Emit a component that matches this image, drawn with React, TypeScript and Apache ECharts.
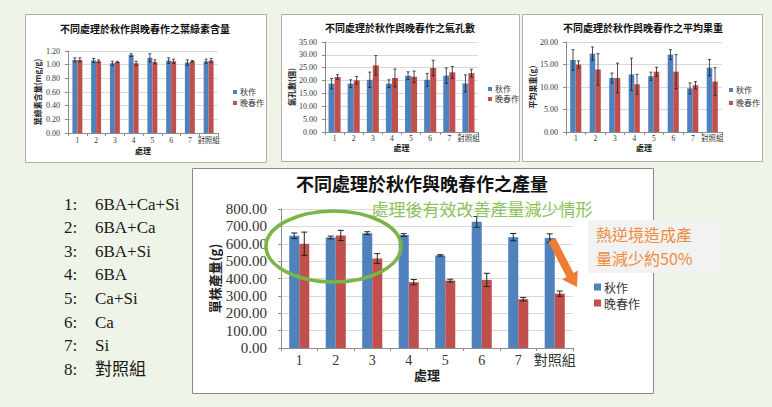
import { useEffect, useRef } from 'react';
import * as echarts from 'echarts';

const categories = ['1', '2', '3', '4', '5', '6', '7', '對照組'];
const seriesNames = ['秋作', '晚春作'];

// 葉綠素含量 (mg/g)
const chlAutumn = [1.07, 1.06, 1.02, 1.14, 1.1, 1.06, 1.03, 1.05];
const chlAutumnErr = [0.03, 0.03, 0.03, 0.02, 0.06, 0.04, 0.04, 0.03];
const chlSpring = [1.07, 1.05, 1.04, 1.02, 1.04, 1.05, 1.05, 1.06];
const chlSpringErr = [0.03, 0.02, 0.01, 0.03, 0.03, 0.03, 0.01, 0.03];

// 氣孔數 (個)
const stoAutumn = [18.8, 18.8, 20.3, 18.8, 21.9, 20.3, 21.9, 18.9];
const stoAutumnErr = [2.0, 1.5, 3.0, 1.5, 1.5, 2.5, 3.0, 3.3];
const stoSpring = [21.4, 20.1, 25.9, 21.0, 21.5, 24.9, 23.2, 22.9];
const stoSpringErr = [0.9, 1.5, 3.8, 3.5, 2.2, 3.0, 2.3, 1.5];

// 平均果重 (g)
const fwAutumn = [16.0, 17.4, 12.0, 12.8, 12.4, 17.2, 9.7, 14.3];
const fwAutumnErr = [2.3, 1.5, 1.1, 3.6, 0.9, 1.1, 1.2, 1.8];
const fwSpring = [15.0, 13.9, 12.0, 10.6, 13.4, 13.4, 10.4, 11.2];
const fwSpringErr = [0.8, 3.5, 3.3, 2.2, 1.0, 3.8, 0.8, 3.1];

// 單株產量 (g)
const yieldAutumn = [646, 636, 661, 650, 533, 726, 638, 633];
const yieldAutumnErr = [16, 8, 8, 8, 4, 31, 21, 24];
const yieldSpring = [600, 648, 515, 379, 388, 392, 281, 313];
const yieldSpringErr = [67, 29, 28, 15, 8, 38, 10, 15];

const treatmentNos = ['1:', '2:', '3:', '4:', '5:', '6:', '7:', '8:'];
const treatmentNames = ['6BA+Ca+Si', '6BA+Ca', '6BA+Si', '6BA', 'Ca+Si', 'Ca', 'Si', '對照組'];

const BLUE = '#4f81bd';
const RED = '#c0504d';
const SERIF = '"Liberation Serif", "Noto Sans CJK TC", serif';
const SANS_TC = '"Noto Sans CJK TC", sans-serif';

const charts = [
  {
    title: '不同處理於秋作與晚春作之葉綠素含量',
    yName: '葉綠素含量(mg/g)',
    max: 1.2, interval: 0.2,
    autumn: chlAutumn, autumnErr: chlAutumnErr, spring: chlSpring, springErr: chlSpringErr,
  },
  {
    title: '不同處理於秋作與晚春作之氣孔數',
    yName: '氣孔數(個)',
    max: 35, interval: 5,
    autumn: stoAutumn, autumnErr: stoAutumnErr, spring: stoSpring, springErr: stoSpringErr,
  },
  {
    title: '不同處理於秋作與晚春作之平均果重',
    yName: '平均果重(g)',
    max: 20, interval: 5,
    autumn: fwAutumn, autumnErr: fwAutumnErr, spring: fwSpring, springErr: fwSpringErr,
  },
  {
    title: '不同處理於秋作與晚春作之產量',
    yName: '單株產量(g)',
    max: 800, interval: 100,
    autumn: yieldAutumn, autumnErr: yieldAutumnErr, spring: yieldSpring, springErr: yieldSpringErr,
  },
];

// layout per chart (same order as charts)
const layouts = [
  { panel: [25, 14, 241, 148], grid: [68, 51, 150, 82], titleX: 145, titleY: 28, titleSize: 10,
    gap: 0.47, font: 8, xFont: 7.5, labelMargin: 8, xMargin: 4, yNameGap: 27, xNameGap: 13, nameFont: 8,
    legend: [233, 88, 4, 3], legendFont: 8, cap: 3, errW: 0.8 },
  { panel: [281, 14, 238, 147], grid: [325, 42, 153, 90], titleX: 400, titleY: 27, titleSize: 10,
    gap: 0.37, font: 8, xFont: 7.5, labelMargin: 8, xMargin: 3, yNameGap: 30, xNameGap: 11, nameFont: 8,
    legend: [488, 85, 4, 2], legendFont: 8, cap: 3, errW: 0.8 },
  { panel: [522, 14, 240, 147], grid: [566, 42, 156, 90], titleX: 643, titleY: 27, titleSize: 10,
    gap: 0.43, font: 8, xFont: 7.5, labelMargin: 8, xMargin: 3, yNameGap: 29, xNameGap: 11, nameFont: 8,
    legend: [729, 86, 4, 5], legendFont: 8, cap: 3, errW: 0.8 },
  { panel: [192, 168, 461, 225], grid: [281, 209, 292, 139], titleX: 422, titleY: 183, titleSize: 18,
    gap: 0.45, font: 15, xFont: 14, labelMargin: 14, xMargin: 5, yNameGap: 60, xNameGap: 19, nameFont: 13,
    legend: [594, 281, 7, 4], legendFont: 12, cap: 6, errW: 1 },
];

function errorBars(idx: number, values: number[], errs: number[], side: number, gap: number, cap: number, lw: number) {
  return {
    type: 'custom',
    xAxisIndex: idx,
    yAxisIndex: idx,
    z: 5,
    silent: true,
    data: values.map((v, i) => [i, v, errs[i]]),
    renderItem: (_params: any, api: any) => {
      const i = api.value(0);
      const v = api.value(1);
      const e = api.value(2);
      const band = api.size([1, 0])[0];
      const bw = (band * (1 - gap)) / 2;
      const top = api.coord([i, v + e]);
      const bot = api.coord([i, v - e]);
      const x = top[0] + (side * bw) / 2;
      const style = { stroke: '#222', lineWidth: lw };
      return {
        type: 'group',
        children: [
          { type: 'line', shape: { x1: x, y1: top[1], x2: x, y2: bot[1] }, style },
          { type: 'line', shape: { x1: x - cap / 2, y1: top[1], x2: x + cap / 2, y2: top[1] }, style },
          { type: 'line', shape: { x1: x - cap / 2, y1: bot[1], x2: x + cap / 2, y2: bot[1] }, style },
        ],
      };
    },
  };
}

export default function App() {
  const chartRef = useRef<HTMLDivElement>(null);

  useEffect(() => {
    if (!chartRef.current) return;
    const chart = echarts.init(chartRef.current, null, { renderer: 'svg' });

    const grid = layouts.map((l) => ({
      left: l.grid[0], top: l.grid[1], width: l.grid[2], height: l.grid[3], containLabel: false,
    }));

    const xAxis = layouts.map((l, i) => ({
      type: 'category',
      gridIndex: i,
      data: categories,
      name: '處理',
      nameLocation: 'middle',
      nameGap: l.xNameGap,
      nameTextStyle: { fontFamily: SANS_TC, fontWeight: 'bold', fontSize: l.nameFont, color: '#222' },
      axisLine: { lineStyle: { color: '#8c8c8c' } },
      axisTick: { show: true, length: 3, lineStyle: { color: '#8c8c8c' } },
      axisLabel: { fontFamily: SERIF, fontSize: l.xFont, color: '#333', margin: l.xMargin, interval: 0 },
    }));

    const yAxis = layouts.map((l, i) => ({
      type: 'value',
      gridIndex: i,
      min: 0,
      max: charts[i].max,
      interval: charts[i].interval,
      name: charts[i].yName,
      nameLocation: 'middle',
      nameRotate: 90,
      nameGap: l.yNameGap,
      nameTextStyle: { fontFamily: SANS_TC, fontWeight: 'bold', fontSize: l.nameFont, color: '#222' },
      axisLine: { show: true, lineStyle: { color: '#8c8c8c' } },
      axisTick: { show: true, length: 3, lineStyle: { color: '#8c8c8c' } },
      splitLine: { lineStyle: { color: '#d9d9d9' } },
      axisLabel: {
        fontFamily: SERIF, fontSize: l.font, color: '#333', margin: l.labelMargin,
        formatter: (v: number) => v.toFixed(2),
      },
    }));

    const series: any[] = [];
    charts.forEach((c, i) => {
      const l = layouts[i];
      series.push({
        name: seriesNames[0], type: 'bar', xAxisIndex: i, yAxisIndex: i, data: c.autumn,
        itemStyle: { color: BLUE }, barGap: '0%', barCategoryGap: `${l.gap * 100}%`,
      });
      series.push({
        name: seriesNames[1], type: 'bar', xAxisIndex: i, yAxisIndex: i, data: c.spring,
        itemStyle: { color: RED }, barGap: '0%', barCategoryGap: `${l.gap * 100}%`,
      });
      series.push(errorBars(i, c.autumn, c.autumnErr, -1, l.gap, l.cap, l.errW));
      series.push(errorBars(i, c.spring, c.springErr, 1, l.gap, l.cap, l.errW));
    });

    const legend = layouts.map((l) => ({
      data: seriesNames,
      orient: 'vertical',
      left: l.legend[0],
      top: l.legend[1],
      itemWidth: l.legend[2],
      itemHeight: l.legend[2],
      itemGap: l.legend[3],
      icon: 'rect',
      padding: 0,
      selectedMode: false,
      textStyle: { fontFamily: SANS_TC, fontSize: l.legendFont, color: '#333', padding: [0, 0, 0, -2] },
    }));

    const graphic: any[] = [];
    layouts.forEach((l, i) => {
      graphic.push({
        type: 'rect', z: -1, silent: true,
        shape: { x: l.panel[0] + 0.5, y: l.panel[1] + 0.5, width: l.panel[2], height: l.panel[3] },
        style: { fill: '#ffffff', stroke: i === 3 ? '#8a8a8a' : '#b0b0b0', lineWidth: 1 },
      });
      graphic.push({
        type: 'text', z: 100, silent: true, x: l.titleX, y: l.titleY,
        style: {
          text: charts[i].title, align: 'center', verticalAlign: 'middle',
          font: `bold ${l.titleSize}px ${SANS_TC}`, fill: '#111',
        },
      });
    });

    treatmentNos.forEach((n, i) => {
      graphic.push({
        type: 'text', z: 100, silent: true, x: 64, y: 204 + i * 23.6,
        style: {
          text: `{n|${n}}{t|${treatmentNames[i]}}`, verticalAlign: 'middle',
          rich: {
            n: { width: 31, font: `17px ${SERIF}`, fill: '#1a1a1a' },
            t: { font: `17px ${SERIF}`, fill: '#1a1a1a' },
          },
        },
      });
    });

    // annotations on the yield chart
    graphic.push({
      type: 'ellipse', z: 100, silent: true,
      shape: { cx: 333.5, cy: 246.5, rx: 67.5, ry: 35.5 },
      style: { fill: 'none', stroke: '#79b547', lineWidth: 3.5 },
    });
    graphic.push({
      type: 'text', z: 100, silent: true, x: 482, y: 208,
      style: {
        text: '處理後有效改善產量減少情形', align: 'center', verticalAlign: 'middle',
        font: `17px ${SANS_TC}`, fill: '#8cc25a',
      },
    });
    graphic.push({
      type: 'rect', z: 99, silent: true,
      shape: { x: 588, y: 220, width: 135, height: 53 },
      style: { fill: '#f2f2f2' },
    });
    graphic.push({
      type: 'text', z: 100, silent: true, x: 596, y: 246,
      style: {
        text: '熱逆境造成產\n量減少約50%', verticalAlign: 'middle',
        font: `16px ${SANS_TC}`, lineHeight: 24, fill: '#f08a3c',
      },
    });
    graphic.push({
      type: 'polygon', z: 100, silent: true,
      shape: {
        points: [
          [548.5, 242.0], [566.5, 276.9], [562.2, 279.4], [577, 287],
          [577.8, 270.4], [573.5, 272.9], [555.5, 238.0],
        ],
      },
      style: { fill: '#ed7d31' },
    });

    chart.setOption({
      animation: false,
      backgroundColor: '#eef5e8',
      grid,
      xAxis,
      yAxis,
      legend,
      series,
      graphic,
    } as any);

    return () => {
      chart.dispose();
    };
  }, []);

  return (
    <div
      ref={chartRef}
      style={{ position: 'fixed', left: 0, top: 0, width: '772px', height: '407px' }}
    />
  );
}
